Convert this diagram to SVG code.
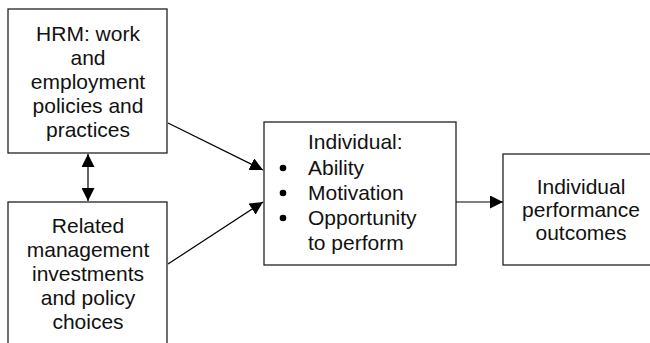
<svg xmlns="http://www.w3.org/2000/svg" width="650" height="343" viewBox="0 0 650 343">
<defs>
<marker id="ah" markerUnits="userSpaceOnUse" markerWidth="13" markerHeight="13" refX="13" refY="6.5" orient="auto">
<path d="M0,0 L13,6.5 L0,13 z" fill="#000"/>
</marker>
<marker id="ahs" markerUnits="userSpaceOnUse" markerWidth="13" markerHeight="13" refX="0" refY="6.5" orient="auto">
<path d="M13,0 L0,6.5 L13,13 z" fill="#000"/>
</marker>
</defs>
<style>
rect{fill:#fff;stroke:#222;stroke-width:1.3}
text{font-family:"Liberation Sans",Arial,sans-serif;font-size:21px;fill:#111}
.c{text-anchor:middle}
line{stroke:#000;stroke-width:1.2}
</style>
<rect x="0" y="0" width="650" height="343" style="stroke:none"/>
<g id="hrm">
<rect x="8" y="9" width="159" height="144"/>
<text class="c" x="88" y="41">HRM: work</text>
<text class="c" x="88" y="65">and</text>
<text class="c" x="88" y="89">employment</text>
<text class="c" x="88" y="113">policies and</text>
<text class="c" x="88" y="137">practices</text>
</g>
<g id="related">
<rect x="8" y="202" width="159" height="160"/>
<text class="c" x="88" y="233">Related</text>
<text class="c" x="88" y="257">management</text>
<text class="c" x="88" y="281">investments</text>
<text class="c" x="88" y="305">and policy</text>
<text class="c" x="88" y="329">choices</text>
</g>
<g id="individual">
<rect x="264" y="122" width="192" height="143"/>
<text x="308" y="149">Individual:</text>
<circle cx="283" cy="168" r="3.3" fill="#000"/>
<text x="308" y="175">Ability</text>
<circle cx="283" cy="193" r="3.3" fill="#000"/>
<text x="308" y="200">Motivation</text>
<circle cx="283" cy="218" r="3.3" fill="#000"/>
<text x="308" y="225">Opportunity</text>
<text x="308" y="250">to perform</text>
</g>
<g id="outcomes">
<rect x="503" y="154" width="160" height="111"/>
<text class="c" x="581" y="194">Individual</text>
<text class="c" x="581" y="217">performance</text>
<text class="c" x="581" y="240">outcomes</text>
</g>
<g id="connectors">
<line x1="88" y1="154" x2="88" y2="201" marker-start="url(#ahs)" marker-end="url(#ah)"/>
<line x1="168" y1="123" x2="263" y2="170" marker-end="url(#ah)"/>
<line x1="168" y1="264" x2="263" y2="202" marker-end="url(#ah)"/>
<line x1="456" y1="202" x2="503" y2="202" marker-end="url(#ah)"/>
</g>
</svg>
